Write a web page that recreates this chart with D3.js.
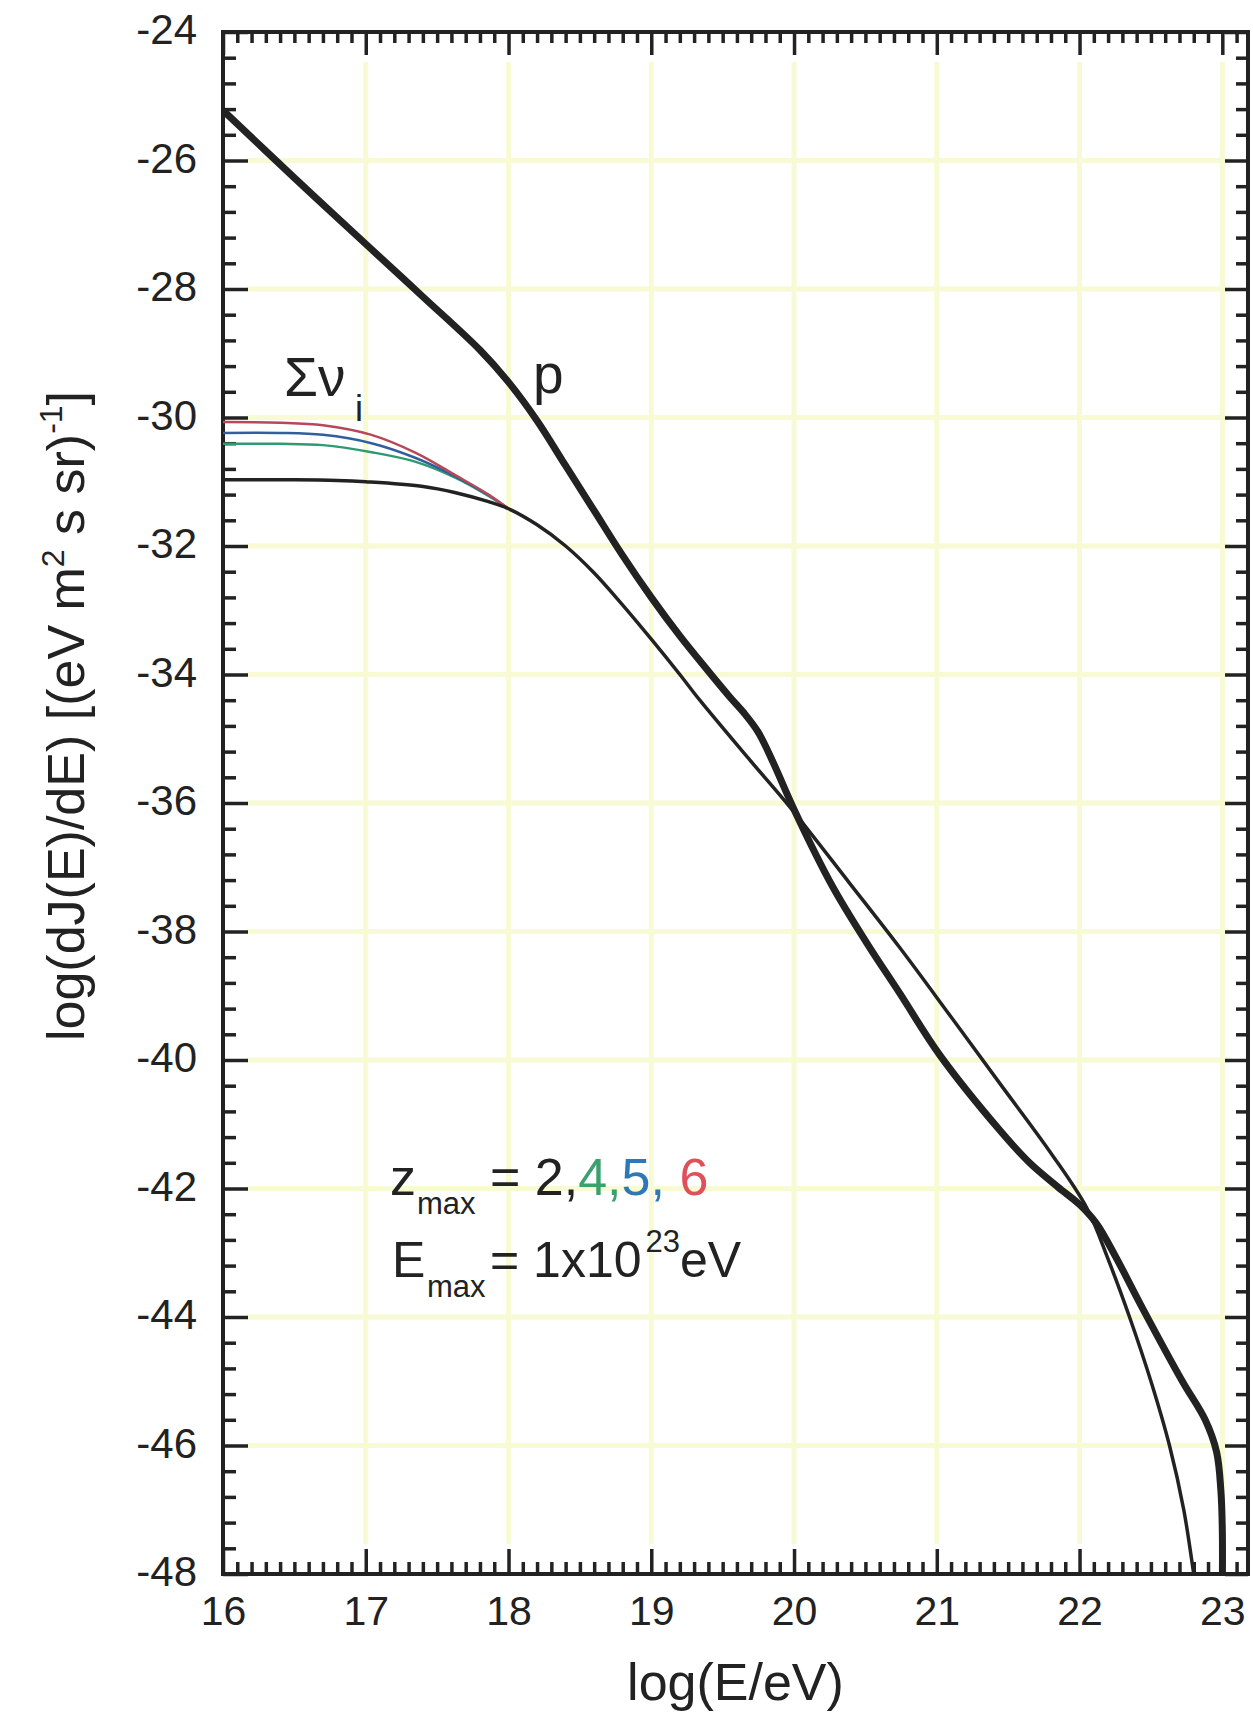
<!DOCTYPE html>
<html>
<head>
<meta charset="utf-8">
<script src="https://cdn.jsdelivr.net/npm/d3@7"></script>
<style>
  body { margin: 0; background: #fff; }
  text { font-family: "Liberation Sans", Arial, sans-serif; fill: #222; }
</style>
</head>
<body>
<div id="chart"></div>
<script>

//config var and add svg
var WD = 1253, HT = 1716
var margin = { left: 223, right: 5, top: 32, bottom: 142 }

// axis ranges and ticks
var xDomain = [16, 23.18]
var yDomain = [-24, -48]
var xMajor = [16, 17, 18, 19, 20, 21, 22, 23]
var yMajor = [-24, -26, -28, -30, -32, -34, -36, -38, -40, -42, -44, -46, -48]

// curves: [log(E/eV), log(dJ/dE)]
var protonCurve = [
  [16.0, -25.22], [16.5, -26.27], [17.0, -27.3], [17.4, -28.12], [17.8, -28.95],
  [18.0, -29.45], [18.2, -30.05], [18.4, -30.75], [18.6, -31.45], [18.8, -32.15],
  [19.0, -32.8], [19.2, -33.4], [19.4, -33.95], [19.55, -34.35], [19.65, -34.6],
  [19.75, -34.9], [19.85, -35.35], [20.0, -36.1], [20.27, -37.3], [20.51, -38.18],
  [20.74, -38.96], [21.02, -39.92], [21.44, -41.09], [21.65, -41.6], [21.85, -41.98],
  [22.0, -42.25], [22.12, -42.55], [22.25, -43.05], [22.45, -43.9], [22.72, -45.0],
  [22.88, -45.6], [22.96, -46.1], [22.99, -46.7], [23.0, -47.3], [23.0, -48.3]
]
var nuZ2 = [
  [16.0, -30.97], [16.5, -30.97], [16.8, -30.98], [17.0, -31.0], [17.39, -31.07],
  [17.63, -31.17], [17.86, -31.31], [18.0, -31.42], [18.2, -31.67], [18.4, -32.0],
  [18.6, -32.42], [18.8, -32.92], [19.0, -33.45], [19.2, -34.0], [19.34, -34.4],
  [19.69, -35.33], [19.97, -36.06], [20.39, -37.25], [20.74, -38.25], [21.09, -39.3],
  [21.44, -40.36], [21.8, -41.45], [22.05, -42.3], [22.2, -43.1], [22.35, -44.0],
  [22.5, -45.0], [22.63, -46.0], [22.73, -47.0], [22.8, -48.0], [22.82, -48.3]
]
var nuZ4 = [
  [16.0, -30.41], [16.4, -30.41], [16.7, -30.43], [17.04, -30.54], [17.35, -30.69],
  [17.63, -30.94], [17.86, -31.22], [18.0, -31.42]
]
var nuZ5 = [
  [16.0, -30.24], [16.4, -30.24], [16.7, -30.27], [17.04, -30.4], [17.35, -30.63],
  [17.63, -30.92], [17.86, -31.21], [18.0, -31.42]
]
var nuZ6 = [
  [16.0, -30.07], [16.4, -30.08], [16.7, -30.12], [17.04, -30.27], [17.35, -30.55],
  [17.63, -30.9], [17.86, -31.2], [18.0, -31.42]
]

var x = d3.scaleLinear().domain(xDomain).range([margin.left, WD - margin.right])
var y = d3.scaleLinear().domain(yDomain).range([margin.top, HT - margin.bottom])

var svg = d3.select("#chart")
  .append("svg")
    .attr("width", WD)
    .attr("height", HT)

var defs = svg.append("defs")
defs.append("clipPath").attr("id", "plotclip")
  .append("rect")
    .attr("x", x(xDomain[0])).attr("y", y(yDomain[0]))
    .attr("width", x(xDomain[1]) - x(xDomain[0]))
    .attr("height", y(yDomain[1]) - y(yDomain[0]))

defs.append("clipPath").attr("id", "gridclip")
  .append("rect")
    .attr("x", x(xDomain[0]) + 24).attr("y", y(yDomain[0]) + 30)
    .attr("width", x(xDomain[1]) - x(xDomain[0]) - 42)
    .attr("height", y(yDomain[1]) - y(yDomain[0]) - 60)

// pale yellow grid
var grid = svg.append("g").attr("clip-path", "url(#gridclip)")
grid.selectAll(".vgrid")
  .data(xMajor)
  .enter().append("line")
    .attr("x1", d => x(d)).attr("x2", d => x(d))
    .attr("y1", y(yDomain[0])).attr("y2", y(yDomain[1]))
    .attr("stroke", "#f7fad2").attr("stroke-width", 5)
grid.selectAll(".hgrid")
  .data(yMajor)
  .enter().append("line")
    .attr("x1", x(xDomain[0])).attr("x2", x(xDomain[1]))
    .attr("y1", d => y(d)).attr("y2", d => y(d))
    .attr("stroke", "#f7fad2").attr("stroke-width", 5)

// minor tick positions
var xMinor = d3.range(160, 232).filter(v => v % 10 != 0).map(v => v / 10)
var yMinor = d3.range(-240, -481, -4).filter(v => v % 20 != 0).map(v => v / 10)

function styleAxis(g) {
  g.select(".domain").remove()
  g.selectAll(".tick line").attr("stroke", "#222").attr("stroke-width", 3.5)
}

// bottom
svg.append("g").attr("transform", "translate(0," + y(yDomain[1]) + ")")
  .call(d3.axisBottom(x).tickValues(xMinor).tickSize(-12).tickFormat(""))
  .call(styleAxis)
svg.append("g").attr("transform", "translate(0," + y(yDomain[1]) + ")")
  .call(d3.axisBottom(x).tickValues(xMajor).tickSize(-25).tickPadding(22).tickFormat(d => String(d)))
  .call(styleAxis)
  .selectAll("text").style("font-size", "41px").attr("fill", "#222")

// top
svg.append("g").attr("transform", "translate(0," + y(yDomain[0]) + ")")
  .call(d3.axisTop(x).tickValues(xMinor).tickSize(-11).tickFormat(""))
  .call(styleAxis)
svg.append("g").attr("transform", "translate(0," + y(yDomain[0]) + ")")
  .call(d3.axisTop(x).tickValues(xMajor).tickSize(-23).tickFormat(""))
  .call(styleAxis)

// left
svg.append("g").attr("transform", "translate(" + x(xDomain[0]) + ",0)")
  .call(d3.axisLeft(y).tickValues(yMinor).tickSize(-13).tickFormat(""))
  .call(styleAxis)
svg.append("g").attr("transform", "translate(" + x(xDomain[0]) + ",0)")
  .call(d3.axisLeft(y).tickValues(yMajor).tickSize(-25).tickPadding(26).tickFormat(d => String(d)))
  .call(styleAxis)
  .selectAll("text").style("font-size", "42px").attr("fill", "#222").attr("dy", "0.28em")

// right
svg.append("g").attr("transform", "translate(" + x(xDomain[1]) + ",0)")
  .call(d3.axisRight(y).tickValues(yMinor).tickSize(-12).tickFormat(""))
  .call(styleAxis)
svg.append("g").attr("transform", "translate(" + x(xDomain[1]) + ",0)")
  .call(d3.axisRight(y).tickValues(yMajor).tickSize(-23).tickFormat(""))
  .call(styleAxis)

// frame
svg.append("rect")
  .attr("x", x(xDomain[0])).attr("y", y(yDomain[0]))
  .attr("width", x(xDomain[1]) - x(xDomain[0]))
  .attr("height", y(yDomain[1]) - y(yDomain[0]))
  .attr("fill", "none").attr("stroke", "#222").attr("stroke-width", 4)

// curves
var line = d3.line()
  .x(d => x(d[0]))
  .y(d => y(d[1]))
  .curve(d3.curveCatmullRom.alpha(0.5))

var curves = svg.append("g").attr("clip-path", "url(#plotclip)")
var series = [
  { data: nuZ4, color: "#2f9a70", w: 2.5 },
  { data: nuZ5, color: "#2f5f9c", w: 2.5 },
  { data: nuZ6, color: "#b84858", w: 2.5 },
  { data: nuZ2, color: "#222", w: 3.5 },
  { data: protonCurve, color: "#222", w: 7 }
]
curves.selectAll("path")
  .data(series)
  .enter().append("path")
    .attr("d", d => line(d.data))
    .attr("fill", "none")
    .attr("stroke", d => d.color)
    .attr("stroke-width", d => d.w)
    .attr("stroke-linejoin", "round")

// curve labels
var nuLabel = svg.append("text").attr("x", 284).attr("y", 396).style("font-size", "55px")
nuLabel.append("tspan").text("\u03A3\u03BD")
nuLabel.append("tspan").attr("x", 355).attr("y", 421).style("font-size", "36px").text("i")

svg.append("text").attr("x", 533).attr("y", 393).style("font-size", "55px").text("p")

// annotation block
var zLine = svg.append("text").attr("x", 390).attr("y", 1195).style("font-size", "52px")
zLine.append("tspan").text("z")
zLine.append("tspan").attr("x", 417).attr("y", 1214).style("font-size", "31px").text("max")
zLine.append("tspan").attr("x", 490).attr("y", 1195).text("= 2,")
zLine.append("tspan").style("fill", "#3aa06e").text("4,")
zLine.append("tspan").style("fill", "#2e78b8").text("5,")
zLine.append("tspan").style("fill", "#e0505a").text(" 6")

var eLine = svg.append("text").attr("x", 392).attr("y", 1277).style("font-size", "50px")
eLine.append("tspan").text("E")
eLine.append("tspan").attr("x", 427).attr("y", 1297).style("font-size", "31px").text("max")
eLine.append("tspan").attr("x", 490).attr("y", 1277).text("= 1x10")
eLine.append("tspan").attr("y", 1252).attr("dx", 4).style("font-size", "31px").text("23")
eLine.append("tspan").attr("y", 1277).text("eV")

// axis titles
svg.append("text")
  .attr("x", (x(xDomain[0]) + x(xDomain[1])) / 2)
  .attr("y", 1700)
  .attr("text-anchor", "middle")
  .style("font-size", "52px")
  .text("log(E/eV)")

var yTitle = svg.append("text")
  .attr("transform", "translate(84,716) rotate(-90)")
  .attr("text-anchor", "middle")
  .style("font-size", "52px")
yTitle.append("tspan").text("log(dJ(E)/dE) [(eV m")
yTitle.append("tspan").attr("dy", -20).style("font-size", "32px").text("2")
yTitle.append("tspan").attr("dy", 20).text(" s sr)")
yTitle.append("tspan").attr("dy", -22).style("font-size", "32px").text("-1")
yTitle.append("tspan").attr("dy", 22).text("]")

</script>
</body>
</html>
